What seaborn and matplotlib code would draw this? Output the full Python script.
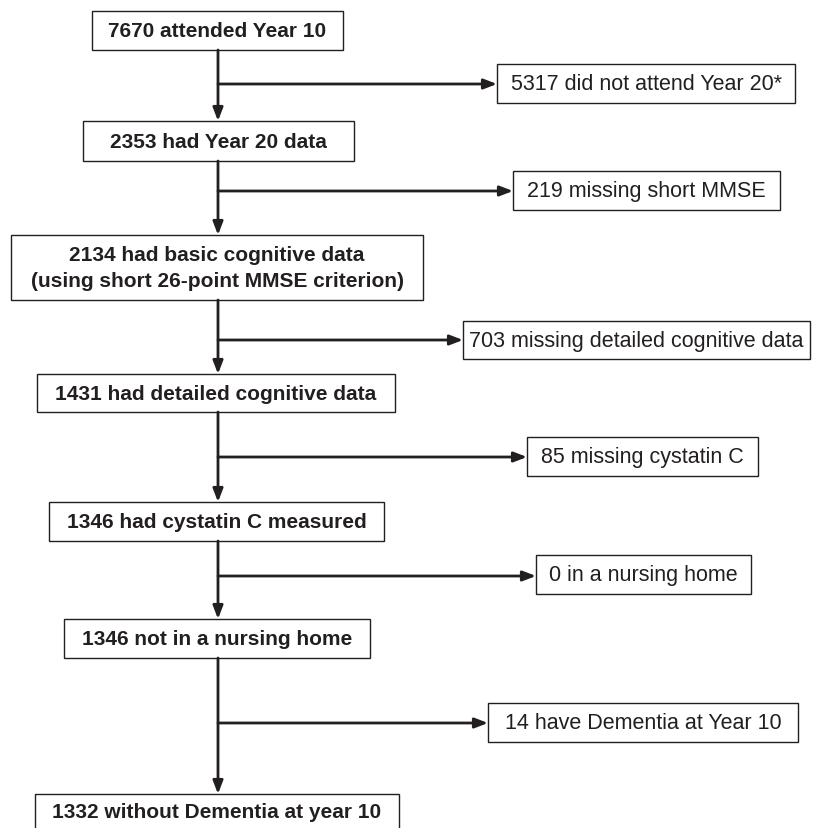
import matplotlib
matplotlib.use("Agg")
import matplotlib.pyplot as plt
import seaborn as sns
from matplotlib.patches import Rectangle

sns.set_theme(style="white")
plt.rcParams["font.family"] = ["Liberation Sans Narrow", "Liberation Sans", "DejaVu Sans"]

# texts of the flow
main_labels = [
    "7670 attended Year 10",
    "2353 had Year 20 data",
    "2134 had basic cognitive data\n(using short 26-point MMSE criterion)",
    "1431 had detailed cognitive data",
    "1346 had cystatin C measured",
    "1346 not in a nursing home",
    "1332 without Dementia at year 10",
]
side_labels = [
    "5317 did not attend Year 20*",
    "219 missing short MMSE",
    "703 missing detailed cognitive data",
    "85 missing cystatin C",
    "0 in a nursing home",
    "14 have Dementia at Year 10",
]

# layout in pixels (x0, x1, y0, y1)
main_boxes = [
    (92, 343, 12, 51),
    (83, 354, 122, 162),
    (11, 423, 236, 301),
    (37, 395, 375, 413),
    (49, 384, 503, 542),
    (64, 370, 620, 659),
    (35, 399, 795, 840),
]
side_boxes = [
    (497, 795, 65, 104),
    (513, 780, 172, 211),
    (463, 810, 322, 360),
    (527, 758, 438, 477),
    (536, 751, 556, 595),
    (488, 798, 704, 743),
]
branch_y = [85, 192, 341, 458, 577, 724]
spine_x = 218

fig = plt.figure(figsize=(8.13, 8.29), dpi=100)
ax = fig.add_axes([0, 0, 1, 1])
ax.set_xlim(0, 813)
ax.set_ylim(829, 0)
ax.axis("off")

col = "#231f20"


def draw_box(box, text, bold):
    x0, x1, y0, y1 = box
    ax.add_patch(Rectangle((x0, y0), x1 - x0, y1 - y0, fill=False,
                           edgecolor=col, lw=1.0, clip_on=False))
    cy = (y0 + y1) / 2 if y1 <= 829 else y0 + 18
    ax.text((x0 + x1) / 2, cy, text, ha="center", va="center",
            fontsize=15 if bold else 15.5,
            fontweight="bold" if bold else "normal",
            color=col, linespacing=1.5)


for box, lab in zip(main_boxes, main_labels):
    draw_box(box, lab, True)
for box, lab in zip(side_boxes, side_labels):
    draw_box(box, lab, False)

arrow = dict(arrowstyle="-|>,head_length=0.65,head_width=0.25", lw=2,
             color=col, shrinkA=0, shrinkB=0)

for i in range(len(main_boxes) - 1):
    top = main_boxes[i][3]
    bottom = main_boxes[i + 1][2]
    ax.annotate("", xy=(spine_x, bottom), xytext=(spine_x, top), arrowprops=arrow)
    ax.annotate("", xy=(side_boxes[i][0], branch_y[i]),
                xytext=(spine_x, branch_y[i]), arrowprops=arrow)

fig.savefig("out.png", dpi=100, facecolor="white")
